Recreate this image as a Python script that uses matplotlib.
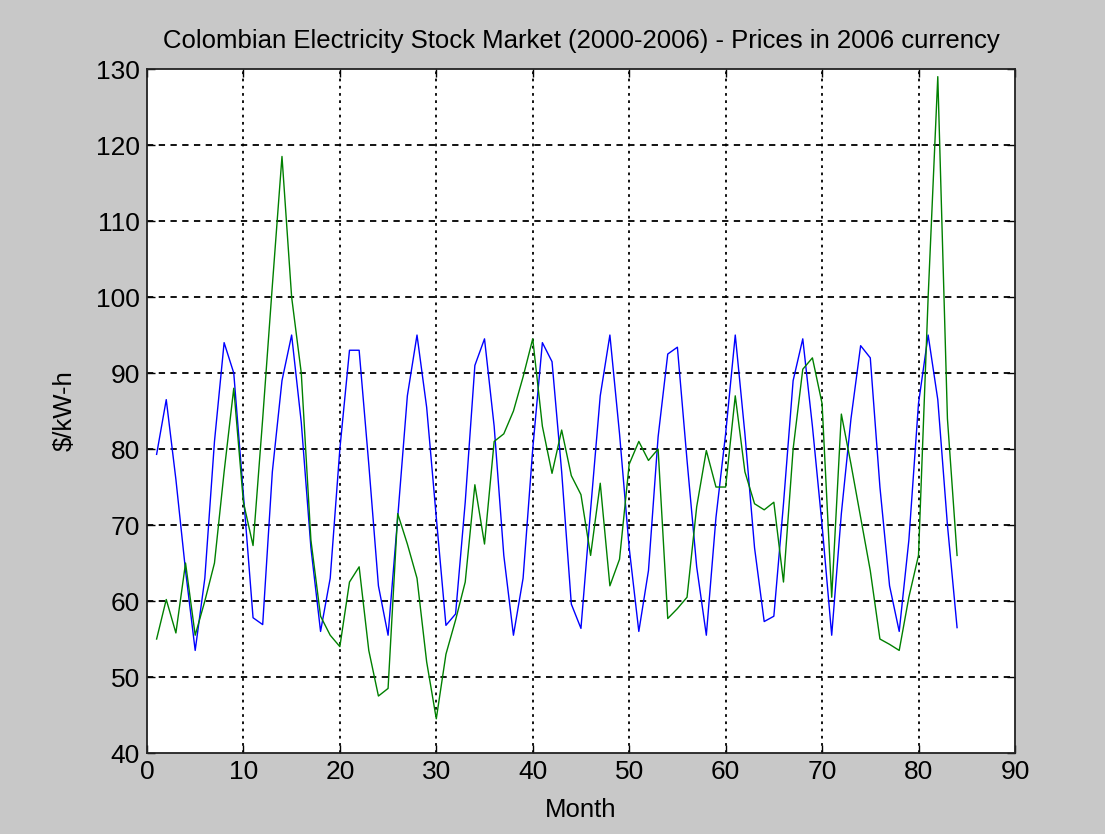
import matplotlib
matplotlib.use("Agg")
import matplotlib.pyplot as plt
import numpy as np

plt.rcParams['font.family'] = ['Liberation Sans', 'DejaVu Sans']

months = list(range(1, 85))

price_blue = [
    79.3, 86.5, 76.0, 64.0, 53.5, 63.0, 81.0, 94.0, 90.0, 74.0,
    57.8, 56.9, 77.0, 89.0, 95.0, 83.5, 67.0, 56.0, 63.0, 80.0,
    93.0, 93.0, 78.0, 62.0, 55.5, 71.0, 87.0, 95.0, 85.5, 71.0,
    56.8, 58.3, 73.0, 91.0, 94.5, 83.0, 66.0, 55.5, 63.0, 80.0,
    94.0, 91.5, 77.0, 59.6, 56.4, 72.0, 87.0, 95.0, 82.0, 67.0,
    56.0, 64.0, 81.6, 92.5, 93.4, 78.5, 64.5, 55.5, 71.0, 82.0,
    95.0, 82.0, 67.0, 57.3, 58.0, 72.8, 89.0, 94.5, 83.0, 70.0,
    55.5, 71.5, 84.0, 93.6, 92.0, 75.0, 62.0, 56.0, 68.0, 86.0,
    95.0, 86.5, 70.0, 56.5,
]

price_green = [
    55.0, 60.2, 55.8, 65.0, 55.5, 60.0, 65.0, 77.0, 88.0, 73.0,
    67.3, 84.0, 101.5, 118.5, 100.0, 90.0, 68.0, 58.0, 55.5, 54.0,
    62.5, 64.5, 53.5, 47.5, 48.5, 71.5, 67.5, 63.0, 52.0, 44.5,
    53.0, 57.5, 62.5, 75.3, 67.5, 81.0, 82.0, 85.0, 89.5, 94.5,
    83.0, 76.8, 82.5, 76.5, 74.0, 66.0, 75.5, 62.0, 65.5, 78.0,
    81.0, 78.5, 80.0, 57.7, 59.0, 60.5, 72.4, 79.8, 75.0, 75.0,
    87.0, 77.0, 72.8, 72.0, 73.0, 62.5, 80.0, 90.5, 92.0, 86.0,
    60.5, 84.6, 78.0, 71.0, 64.0, 55.0, 54.3, 53.5, 60.5, 66.0,
    100.0, 129.0, 84.0, 66.0,
]

x_ticks = list(range(0, 91, 10))
y_ticks = list(range(40, 131, 10))

fig = plt.figure(figsize=(11.05, 8.34), dpi=100, facecolor='#c8c8c8')
ax = fig.add_axes([0.133, 0.0971, 0.7855, 0.8201])
ax.set_facecolor('white')

ax.plot(months, price_blue, color=(0, 0, 1), lw=1.0)
ax.plot(months, price_green, color=(0, 0.5, 0), lw=1.0)

ax.set_xlim(0, 90)
ax.set_ylim(40, 130)
ax.set_xticks(x_ticks)
ax.set_yticks(y_ticks)

# grid: dotted verticals, dashed horizontals
for xv in x_ticks[1:-1]:
    ax.axvline(xv, color='black', lw=1.3, ls=(0, (1.5, 2.5)), zorder=0.5)
for yv in y_ticks[1:-1]:
    ax.axhline(yv, color='black', lw=1.3, ls=(0, (3.5, 3.0)), zorder=0.5)

ax.tick_params(direction='in', length=6, width=1.0, top=True, right=True,
               labelsize=19, colors='black', pad=5)
for s in ax.spines.values():
    s.set_linewidth(1.3)
    s.set_color('#222222')

ax.set_title('Colombian Electricity Stock Market (2000-2006) - Prices in 2006 currency',
             fontsize=18.5, pad=15)
ax.set_xlabel('Month', fontsize=18.5, labelpad=10)
ax.set_ylabel('$/kW-h', fontsize=18.5, labelpad=14)

fig.savefig('out.png', dpi=100, facecolor=fig.get_facecolor())
